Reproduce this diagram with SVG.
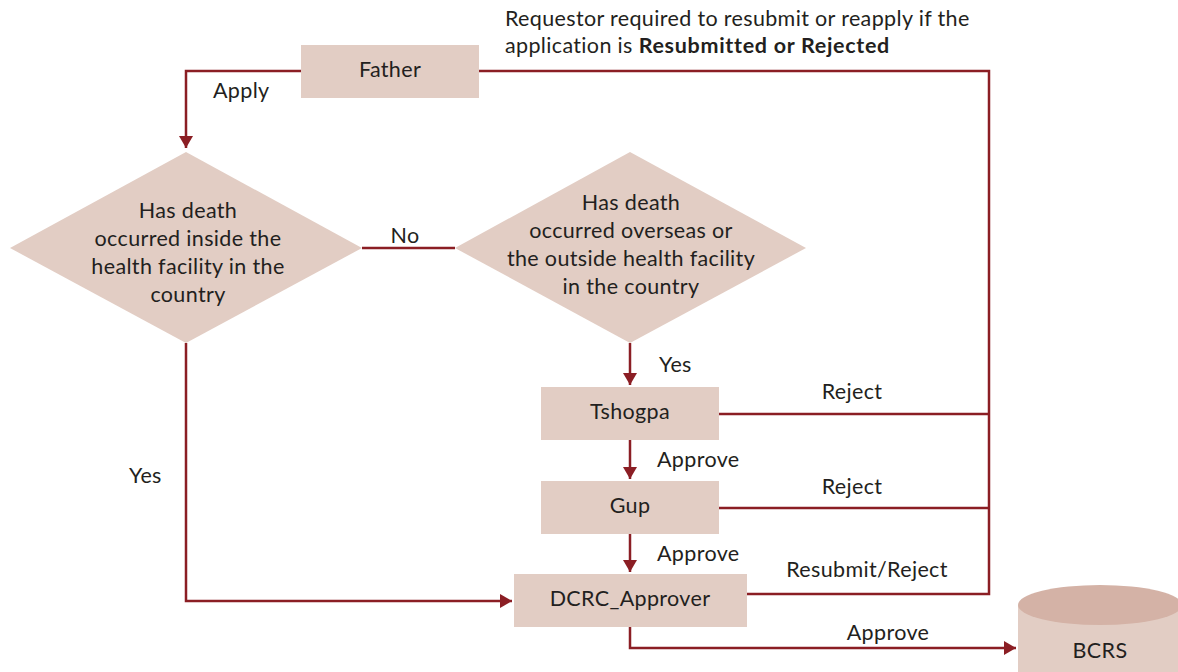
<svg xmlns="http://www.w3.org/2000/svg" width="1178" height="672" viewBox="0 0 1178 672">
<style>
.n{fill:#e2cdc4}
.t{font-family:Lato,"Liberation Sans",sans-serif;font-size:21.5px;letter-spacing:0.35px;fill:#231f20}
.c{text-anchor:middle}
.e{fill:none;stroke:#8b1e24;stroke-width:2.5}
</style>
<defs>
<marker id="ah" viewBox="0 0 12 14" refX="12" refY="7" markerWidth="12" markerHeight="14" markerUnits="userSpaceOnUse" orient="auto">
<path d="M0,0 L12,7 L0,14 Z" fill="#8b1e24"/>
</marker>
</defs>
<rect width="1178" height="672" fill="#ffffff"/>
<g id="connectors">
<path class="e" d="M301,71 H186 V148" marker-end="url(#ah)"/>
<path class="e" d="M479,71 H989 V594 H747"/>
<path class="e" d="M719,414 H989"/>
<path class="e" d="M719,508 H989"/>
<path class="e" d="M362,248 H455"/>
<path class="e" d="M630,343 V385" marker-end="url(#ah)"/>
<path class="e" d="M630,440 V479" marker-end="url(#ah)"/>
<path class="e" d="M630,534 V572" marker-end="url(#ah)"/>
<path class="e" d="M186,343 V601 H512" marker-end="url(#ah)"/>
<path class="e" d="M630,627 V648 H1016" marker-end="url(#ah)"/>
<text class="t" x="213" y="98">Apply</text>
<text class="t c" x="405" y="243">No</text>
<text class="t" x="659" y="372">Yes</text>
<text class="t c" x="852" y="399">Reject</text>
<text class="t" x="657" y="467">Approve</text>
<text class="t c" x="852" y="494">Reject</text>
<text class="t" x="657" y="561">Approve</text>
<text class="t c" x="867" y="577">Resubmit/Reject</text>
<text class="t c" x="888" y="640">Approve</text>
<text class="t" x="129" y="483">Yes</text>
</g>
<g id="note">
<text class="t" x="505" y="26">Requestor required to resubmit or reapply if the</text>
<text class="t" x="505" y="53">application is <tspan font-weight="bold" letter-spacing="0.7">Resubmitted or Rejected</tspan></text>
</g>
<g id="father">
<rect class="n" x="301" y="45" width="178" height="53"/>
<text class="t c" x="390" y="77">Father</text>
</g>
<g id="decision1">
<polygon class="n" points="186,152 362,248 186,343 10,248"/>
<text class="t c" x="188" y="218">Has death</text>
<text class="t c" x="188" y="246">occurred inside the</text>
<text class="t c" x="188" y="274">health facility in the</text>
<text class="t c" x="188" y="302">country</text>
</g>
<g id="decision2">
<polygon class="n" points="630,152 806,248 630,343 455,248"/>
<text class="t c" x="631" y="210">Has death</text>
<text class="t c" x="631" y="238">occurred overseas or</text>
<text class="t c" x="631" y="266">the outside health facility</text>
<text class="t c" x="631" y="294">in the country</text>
</g>
<g id="tshogpa">
<rect class="n" x="541" y="387" width="178" height="53"/>
<text class="t c" x="630" y="419">Tshogpa</text>
</g>
<g id="gup">
<rect class="n" x="541" y="481" width="178" height="53"/>
<text class="t c" x="630" y="513">Gup</text>
</g>
<g id="dcrc">
<rect class="n" x="514" y="574" width="233" height="53"/>
<text class="t c" x="630" y="606">DCRC_Approver</text>
</g>
<g id="bcrs">
<path class="n" d="M1018,605 V672 H1182 V605 Z"/>
<ellipse cx="1100" cy="605" rx="82" ry="20" fill="#d4b2a6"/>
<text class="t c" x="1100" y="658">BCRS</text>
</g>
</svg>
